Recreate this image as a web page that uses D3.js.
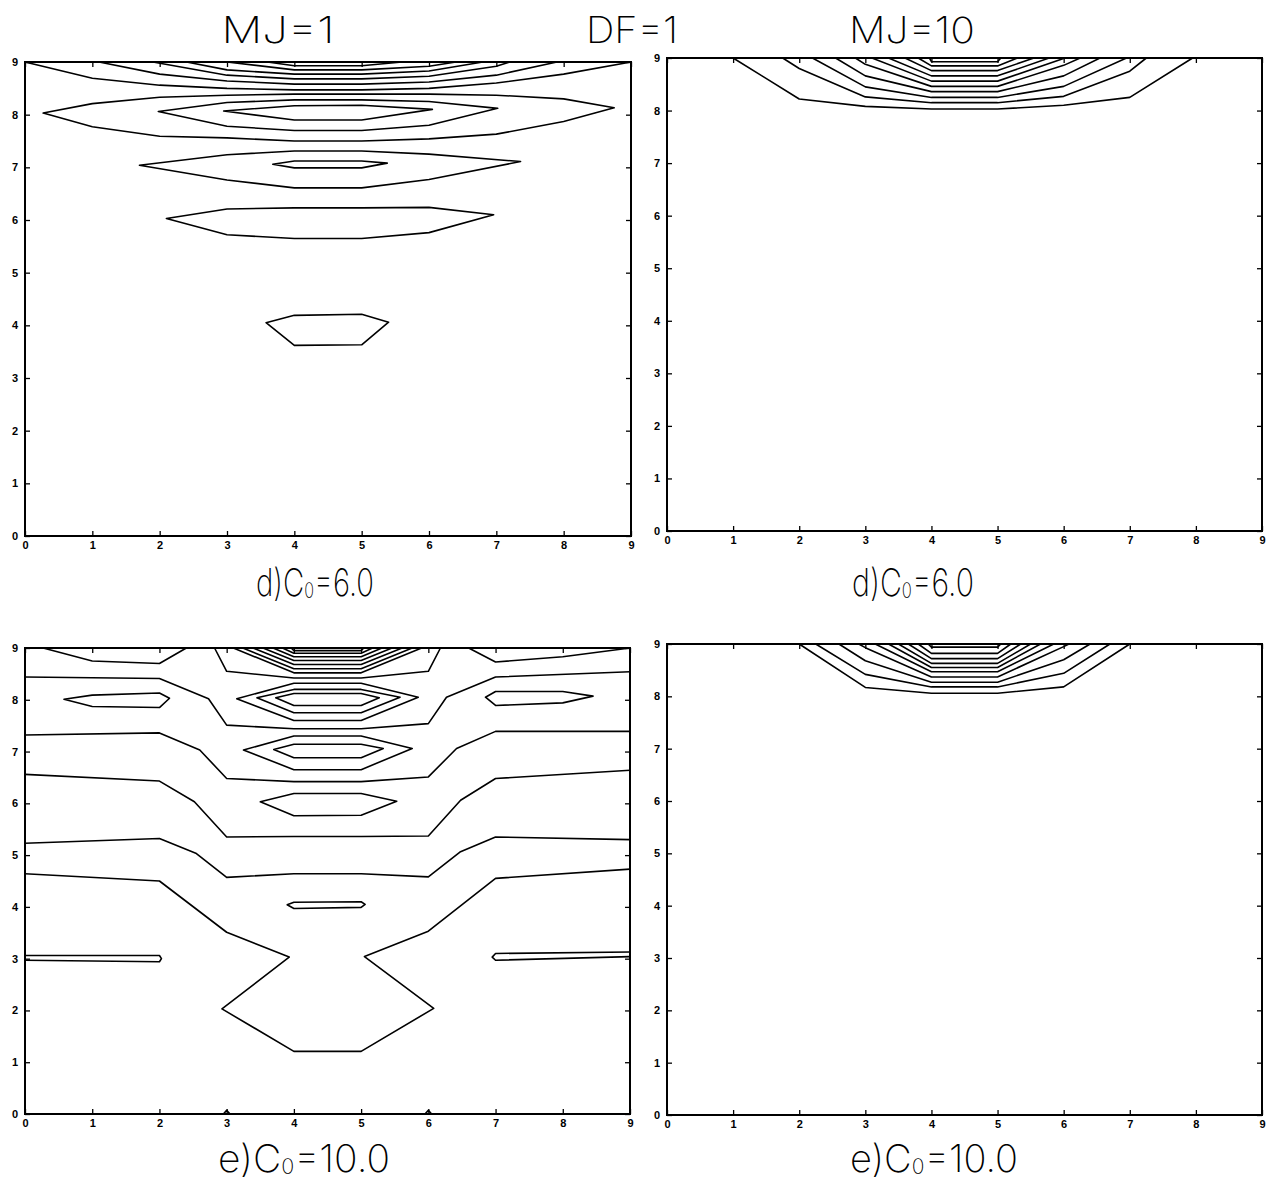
<!DOCTYPE html>
<html>
<head>
<meta charset="utf-8">
<script src="https://cdn.jsdelivr.net/npm/d3@7"></script>
<style>
  body { margin: 0; background: #fff; }
  .tick text { font-family: "Liberation Sans Narrow", "Liberation Sans", sans-serif; font-weight: bold; font-size: 11px; fill: #000; }
  .tick line { stroke: #000; stroke-width: 1.3; }
  .contour { fill: none; stroke: #000; stroke-width: 1.6; stroke-linejoin: round; }
  .title { font-family: "Inter", "DejaVu Sans", sans-serif; font-weight: 200; fill: #000; }
</style>
</head>
<body>
<script>
// tick labels shared by every axis
const tickLabels = [0, 1, 2, 3, 4, 5, 6, 7, 8, 9];

// titles above and below the panels
const headTitles = ["MJ=1", "DF=1", "MJ=10"];
const panelCaptions = [
  ["d)C", "0", "=6.0"],
  ["d)C", "0", "=6.0"],
  ["e)C", "0", "=10.0"],
  ["e)C", "0", "=10.0"]
];

// d) MJ=1 contour lines, [x, y] in grid units
const contoursD1 = [
  { closed: false, pts: [[0, 9], [1, 8.69], [2, 8.56], [3, 8.5], [4, 8.47], [5, 8.47], [6, 8.5], [7, 8.6], [8, 8.77], [9, 9]] },
  { closed: false, pts: [[1.1, 9], [2, 8.77], [3, 8.64], [4, 8.58], [5, 8.58], [6, 8.62], [7, 8.75], [7.9, 9]] },
  { closed: false, pts: [[1.9, 9], [3, 8.75], [4, 8.68], [5, 8.68], [6, 8.73], [7, 8.92], [7.2, 9]] },
  { closed: false, pts: [[2.4, 9], [3, 8.85], [4, 8.77], [5, 8.77], [6, 8.83], [6.8, 9]] },
  { closed: false, pts: [[3.0, 9], [4, 8.85], [5, 8.85], [6, 8.92], [6.4, 9]] },
  { closed: false, pts: [[3.6, 9], [4, 8.93], [5, 8.93], [5.6, 9]] },
  { closed: true, pts: [[0.27, 8.03], [1, 8.21], [2, 8.33], [3, 8.37], [4, 8.39], [5, 8.39], [6, 8.39], [7, 8.37], [8, 8.3], [8.75, 8.13],
                        [8, 7.87], [7, 7.63], [6, 7.54], [5, 7.5], [4, 7.5], [3, 7.56], [2, 7.59], [1, 7.77]] },
  { closed: true, pts: [[1.98, 8.06], [3, 8.23], [4, 8.28], [5, 8.28], [6, 8.25], [7.02, 8.12], [6, 7.8], [5, 7.7], [4, 7.7], [3, 7.78]] },
  { closed: true, pts: [[2.95, 8.07], [4, 8.17], [5, 8.18], [6.05, 8.1], [5, 7.9], [4, 7.9]] },
  { closed: true, pts: [[1.7, 7.04], [3, 7.24], [4, 7.31], [5, 7.31], [6, 7.25], [7.36, 7.11], [6, 6.77], [5, 6.61], [4, 6.61], [3, 6.76]] },
  { closed: true, pts: [[3.68, 7.06], [4, 7.12], [5, 7.12], [5.38, 7.08], [5, 6.99], [4, 6.99]] },
  { closed: true, pts: [[2.1, 6.03], [3, 6.21], [4, 6.23], [5, 6.23], [6, 6.24], [6.96, 6.1], [6, 5.76], [5, 5.65], [4, 5.65], [3, 5.72]] },
  { closed: true, pts: [[3.58, 4.05], [4, 4.19], [5, 4.21], [5.4, 4.06], [5, 3.63], [4, 3.62]] }
];

// d) MJ=10 contour lines
const contoursD10 = [
  { closed: false, pts: [[1, 9], [2, 8.22], [3, 8.08], [4, 8.03], [5, 8.03], [6, 8.1], [7, 8.25], [7.95, 9]] },
  { closed: false, pts: [[1.75, 9], [2, 8.8], [3, 8.26], [4, 8.15], [5, 8.15], [6, 8.27], [7, 8.75], [7.25, 9]] },
  { closed: false, pts: [[2.2, 9], [3, 8.45], [4, 8.25], [5, 8.25], [6, 8.46], [6.95, 9]] },
  { closed: false, pts: [[2.55, 9], [3, 8.66], [4, 8.36], [5, 8.36], [6, 8.66], [6.55, 9]] },
  { closed: false, pts: [[2.85, 9], [3, 8.88], [4, 8.46], [5, 8.46], [6, 8.86], [6.25, 9]] },
  { closed: false, pts: [[3.1, 9], [4, 8.56], [5, 8.56], [6.02, 9]] },
  { closed: false, pts: [[3.35, 9], [4, 8.66], [5, 8.66], [5.78, 9]] },
  { closed: false, pts: [[3.6, 9], [4, 8.76], [5, 8.76], [5.55, 9]] },
  { closed: false, pts: [[3.8, 9], [4, 8.85], [5, 8.85], [5.3, 9]] },
  { closed: false, pts: [[3.97, 9], [4, 8.93], [5, 8.93], [5.05, 9]] }
];

// e) MJ=1 contour lines
const contoursE1 = [
  { closed: false, pts: [[0.27, 9], [1, 8.75], [2, 8.7], [2.4, 9]] },
  { closed: false, pts: [[6.6, 9], [7, 8.73], [8, 8.83], [9, 9]] },
  { closed: false, pts: [[2.82, 9], [3, 8.55], [4, 8.42], [5, 8.42], [6, 8.55], [6.18, 9]] },
  { closed: false, pts: [[3.1, 9], [4, 8.52], [5, 8.52], [5.9, 9]] },
  { closed: false, pts: [[3.24, 9], [4, 8.6], [5, 8.6], [5.76, 9]] },
  { closed: false, pts: [[3.39, 9], [4, 8.68], [5, 8.68], [5.61, 9]] },
  { closed: false, pts: [[3.54, 9], [4, 8.76], [5, 8.76], [5.46, 9]] },
  { closed: false, pts: [[3.69, 9], [4, 8.83], [5, 8.83], [5.31, 9]] },
  { closed: false, pts: [[3.83, 9], [4, 8.9], [5, 8.9], [5.17, 9]] },
  { closed: false, pts: [[3.96, 9], [4, 8.95], [5, 8.95], [5.04, 9]] },
  { closed: false, pts: [[0, 8.44], [2, 8.41], [2.73, 8.02], [3, 7.51], [4, 7.44], [5, 7.44], [6, 7.54], [6.27, 8.05], [7, 8.44], [9, 8.54]] },
  { closed: true, pts: [[0.58, 8.01], [1, 8.09], [2, 8.13], [2.15, 8.03], [2, 7.85], [1, 7.87]] },
  { closed: true, pts: [[6.85, 8.05], [7, 8.16], [8, 8.16], [8.45, 8.07], [8, 7.94], [7, 7.89]] },
  { closed: true, pts: [[3.15, 8.02], [4, 8.32], [5, 8.32], [5.85, 8.05], [5, 7.6], [4, 7.6]] },
  { closed: true, pts: [[3.45, 8.04], [4, 8.2], [5, 8.2], [5.58, 8.05], [5, 7.75], [4, 7.75]] },
  { closed: true, pts: [[3.73, 8.04], [4, 8.12], [5, 8.12], [5.27, 8.04], [5, 7.89], [4, 7.89]] },
  { closed: false, pts: [[0, 7.32], [2, 7.36], [2.6, 7.03], [3, 6.48], [4, 6.42], [5, 6.42], [6, 6.51], [6.42, 7.06], [7, 7.39], [9, 7.39]] },
  { closed: true, pts: [[3.25, 7.03], [4, 7.3], [5, 7.3], [5.76, 7.06], [5, 6.65], [4, 6.65]] },
  { closed: true, pts: [[3.7, 7.04], [4, 7.14], [5, 7.14], [5.33, 7.06], [5, 6.88], [4, 6.88]] },
  { closed: false, pts: [[0, 6.56], [2, 6.43], [2.52, 6.03], [3, 5.35], [4, 5.36], [5, 5.36], [6, 5.37], [6.48, 6.06], [7, 6.48], [9, 6.64]] },
  { closed: true, pts: [[3.5, 6.03], [4, 6.19], [5, 6.19], [5.53, 6.04], [5, 5.77], [4, 5.76]] },
  { closed: false, pts: [[0, 5.23], [2, 5.32], [2.55, 5.03], [3, 4.57], [4, 4.64], [5, 4.64], [6, 4.58], [6.47, 5.06], [7, 5.35], [9, 5.3]] },
  { closed: false, pts: [[0, 4.64], [2, 4.5], [3, 3.51], [3.93, 3.03], [2.93, 2.03], [4, 1.21], [5, 1.21], [6.08, 2.04], [5.05, 3.04], [6, 3.53], [7, 4.55], [9, 4.73]] },
  { closed: true, pts: [[3.9, 4.04], [4, 4.09], [5, 4.1], [5.06, 4.05], [5, 3.99], [4, 3.97]] },
  { closed: false, pts: [[0, 3.06], [2, 3.06], [2.03, 3.0], [2, 2.94], [0, 2.97]] },
  { closed: false, pts: [[9, 3.13], [7, 3.1], [6.95, 3.03], [7, 2.97], [9, 3.04]] },
  { closed: false, pts: [[2.95, 0], [3, 0.07], [3.05, 0]] },
  { closed: false, pts: [[5.95, 0], [6, 0.07], [6.05, 0]] }
];

// e) MJ=10 contour lines
const contoursE10 = [
  { closed: false, pts: [[2, 9], [3, 8.17], [4, 8.06], [5, 8.06], [6, 8.18], [7, 9]] },
  { closed: false, pts: [[2.25, 9], [3, 8.42], [4, 8.18], [5, 8.18], [6, 8.44], [6.7, 9]] },
  { closed: false, pts: [[2.6, 9], [3, 8.68], [4, 8.27], [5, 8.27], [6, 8.7], [6.4, 9]] },
  { closed: false, pts: [[2.9, 9], [3, 8.93], [4, 8.37], [5, 8.37], [6, 8.95], [6.08, 9]] },
  { closed: false, pts: [[3.15, 9], [4, 8.47], [5, 8.47], [5.85, 9]] },
  { closed: false, pts: [[3.35, 9], [4, 8.55], [5, 8.55], [5.65, 9]] },
  { closed: false, pts: [[3.5, 9], [4, 8.63], [5, 8.63], [5.5, 9]] },
  { closed: false, pts: [[3.65, 9], [4, 8.72], [5, 8.72], [5.35, 9]] },
  { closed: false, pts: [[3.8, 9], [4, 8.82], [5, 8.82], [5.2, 9]] },
  { closed: false, pts: [[3.95, 9], [4, 8.94], [5, 8.94], [5.05, 9]] }
];

const width = 1276, height = 1183;

// panel placement on the page
const panels = [
  { left: 25, right: 631, top: 62, bottom: 536, lines: contoursD1, caption: panelCaptions[0], capX: 315, capY: 596, capW: 118 },
  { left: 667, right: 1262, top: 58, bottom: 531, lines: contoursD10, caption: panelCaptions[1], capX: 913, capY: 596, capW: 122 },
  { left: 25, right: 630, top: 648, bottom: 1114, lines: contoursE1, caption: panelCaptions[2], capX: 304, capY: 1172, capW: 172 },
  { left: 667, right: 1262, top: 644, bottom: 1115, lines: contoursE10, caption: panelCaptions[3], capX: 934, capY: 1172, capW: 168 }
];

const svg = d3.select("body").append("svg")
  .attr("width", width)
  .attr("height", height);

svg.append("rect").attr("width", width).attr("height", height).attr("fill", "#fff");

for (const p of panels) {
  const x = d3.scaleLinear().domain([0, 9]).range([p.left, p.right]);
  const y = d3.scaleLinear().domain([0, 9]).range([p.bottom, p.top]);
  const g = svg.append("g");

  // ticks point inward on all four sides
  g.append("g").attr("transform", `translate(0,${p.bottom})`)
    .call(d3.axisBottom(x).tickValues(tickLabels).tickSize(-5).tickPadding(5))
    .call(a => a.select(".domain").remove());
  g.append("g").attr("transform", `translate(0,${p.top})`)
    .call(d3.axisTop(x).tickValues(tickLabels).tickSize(-5).tickFormat(""))
    .call(a => a.select(".domain").remove());
  g.append("g").attr("transform", `translate(${p.left},0)`)
    .call(d3.axisLeft(y).tickValues(tickLabels).tickSize(-5).tickPadding(7))
    .call(a => a.select(".domain").remove());
  g.append("g").attr("transform", `translate(${p.right},0)`)
    .call(d3.axisRight(y).tickValues(tickLabels).tickSize(-5).tickFormat(""))
    .call(a => a.select(".domain").remove());

  // adds the contour lines
  const openLine = d3.line().x(d => x(d[0])).y(d => y(d[1]));
  const closedLine = d3.line().x(d => x(d[0])).y(d => y(d[1])).curve(d3.curveLinearClosed);
  g.selectAll(".contour")
    .data(p.lines)
    .enter().append("path")
    .attr("class", "contour")
    .attr("d", d => (d.closed ? closedLine : openLine)(d.pts));

  // frame
  g.append("rect")
    .attr("x", p.left).attr("y", p.top)
    .attr("width", p.right - p.left).attr("height", p.bottom - p.top)
    .attr("fill", "none").attr("stroke", "#000").attr("stroke-width", 2);

  // caption under the panel, with subscript
  const cap = svg.append("text").attr("class", "title")
    .attr("font-size", 38);
  cap.append("tspan").text(p.caption[0]);
  cap.append("tspan").attr("font-size", 21).attr("dy", 2).text(p.caption[1]);
  cap.append("tspan").attr("dy", -2).text(p.caption[2]);
  fitText(cap, p.capX, p.capY, p.capW);
}

// header titles
const headPos = [[278, 43, 113], [632, 43, 92], [912, 43, 126]];
headTitles.forEach((t, i) => {
  const txt = svg.append("text").attr("class", "title").attr("font-size", 36).text(t);
  fitText(txt, headPos[i][0], headPos[i][1], headPos[i][2]);
});

// squeezes a text to a given width, centred on cx
function fitText(sel, cx, baseline, w) {
  const bw = sel.node().getBBox().width;
  const k = w / bw;
  sel.attr("transform", `translate(${cx - w / 2},${baseline}) scale(${k},1)`);
}
</script>
</body>
</html>
